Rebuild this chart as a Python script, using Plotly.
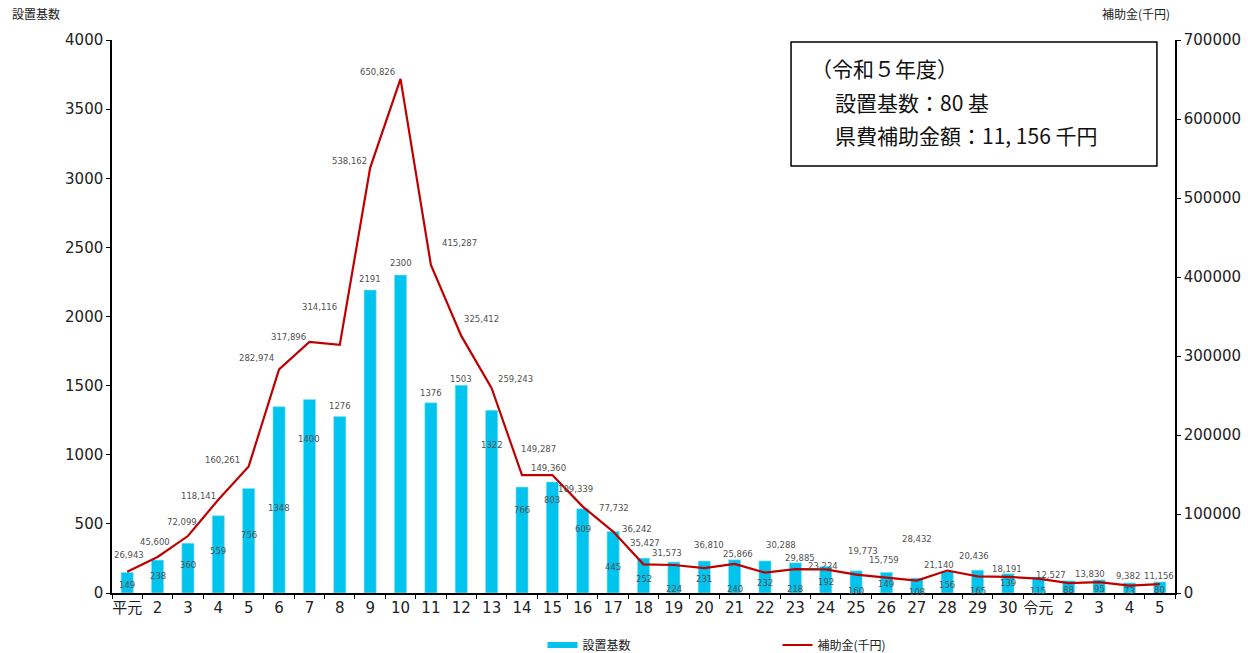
import plotly.graph_objects as go

CATEGORIES = ["平元", "2", "3", "4", "5", "6", "7", "8", "9", "10",
              "11", "12", "13", "14", "15", "16", "17", "18", "19", "20",
              "21", "22", "23", "24", "25", "26", "27", "28", "29", "30",
              "令元", "2 ", "3 ", "4 ", "5 "]
TICK_TEXT = ["平元", "2", "3", "4", "5", "6", "7", "8", "9", "10",
             "11", "12", "13", "14", "15", "16", "17", "18", "19", "20",
             "21", "22", "23", "24", "25", "26", "27", "28", "29", "30",
             "令元", "2", "3", "4", "5"]
UNITS = [149, 238, 360, 559, 756, 1348, 1400, 1276, 2191, 2300,
         1376, 1503, 1322, 766, 803, 609, 445, 252, 224, 231,
         240, 232, 218, 192, 160, 149, 108, 156, 165, 139,
         115, 88, 95, 73, 80]
SUBSIDY = [26943, 45600, 72099, 118141, 160261, 282974, 317896, 314116, 538162, 650826,
           415287, 325412, 259243, 149287, 149360, 109339, 77732, 36242, 35427, 31573,
           36810, 25866, 30288, 29885, 23224, 19773, 15759, 28432, 21140, 20436,
           18191, 12527, 13830, 9382, 11156]

# data-label placement (pixel offsets from each mark, styling only)
BAR_LABEL_DY = [13, 16, 22, 35, 47, 101, 40, -11, -11, -12,
                -10, -6, 35, 23, 18, 20, 36, 21, 27, 18,
                29, 22, 26, 16, 20, 12, 14, 14, 21, 9,
                14, 9, 9, 8, 8]
LINE_LABEL_DX = [2, -3, -6, -20, -26, -23, -21, -20, -21, -23,
                 29, 20, 24, 16, -4, -7, 1, -7, -29, -37,
                 -26, -27, -14, -26, -33, -23, -33, -30, -39, -34,
                 -31, -18, -9, -1, -1]
LINE_LABEL_DY = [-17, -15, -14, -4, -6, -11, -5, -38, -7, -7,
                 -22, -17, -9, -26, -7, -18, -24, -35, -22, -15,
                 -19, -19, -24, -11, -9, -26, -21, -32, -11, -21,
                 -10, -8, -8, -10, -8]

BAR_COLOR = "#00C4EE"
LINE_COLOR = "#C00000"
LABEL_COLOR = "#505050"
FONT = "Noto Sans CJK JP"
NUM_FONT = "DejaVu Sans, Noto Sans CJK JP"

fig = go.Figure()

fig.add_trace(go.Bar(
    x=CATEGORIES, y=UNITS, name="設置基数", showlegend=False,
    marker=dict(color=BAR_COLOR, line=dict(color="#8FE0F5", width=0.6)),
    width=0.4, hoverinfo="skip",
))

fig.add_trace(go.Scatter(
    x=CATEGORIES, y=SUBSIDY, name="補助金(千円)", yaxis="y2",
    mode="lines", line=dict(color=LINE_COLOR, width=2.2),
    showlegend=True, legendrank=2,
))

# legend-only entry for the bars (flat wide swatch like the reference)
fig.add_trace(go.Scatter(
    x=[None], y=[None], name="設置基数", mode="lines",
    line=dict(color=BAR_COLOR, width=6), showlegend=True, legendrank=1,
))

label_font = dict(size=8.5, color=LABEL_COLOR, family=NUM_FONT)
annotations = []
# category axis: annotations are placed by category index
for i, (v, dy) in enumerate(zip(UNITS, BAR_LABEL_DY)):
    annotations.append(dict(x=i, y=v, xref="x", yref="y", text=str(v),
                            showarrow=False, xanchor="center", yanchor="middle",
                            yshift=-dy, font=label_font))
for i, (v, dx, dy) in enumerate(zip(SUBSIDY, LINE_LABEL_DX, LINE_LABEL_DY)):
    annotations.append(dict(x=i, y=v, xref="x", yref="y2", text=f"{v:,}",
                            showarrow=False, xanchor="center", yanchor="middle",
                            xshift=dx, yshift=-dy, font=label_font))

annotations += [
    dict(text="設置基数", xref="paper", yref="paper", x=-0.096, y=1.0488,
         xanchor="left", yanchor="middle", showarrow=False,
         font=dict(size=12, color="#222222", family=FONT)),
    dict(text="補助金(千円)", xref="paper", yref="paper", x=0.997, y=1.0488,
         xanchor="right", yanchor="middle", showarrow=False,
         font=dict(size=12, color="#222222", family=FONT)),
    dict(text="（令和５年度）", xref="paper", yref="paper", x=0.656, y=0.949,
         xanchor="left", yanchor="middle", showarrow=False,
         font=dict(size=21, color="#111111", family=FONT)),
    dict(text="設置基数：80 基", xref="paper", yref="paper", x=0.678, y=0.888,
         xanchor="left", yanchor="middle", showarrow=False,
         font=dict(size=21, color="#111111", family=FONT)),
    dict(text="県費補助金額：11, 156 千円", xref="paper", yref="paper", x=0.678, y=0.828,
         xanchor="left", yanchor="middle", showarrow=False,
         font=dict(size=21, color="#111111", family=FONT)),
]

fig.update_layout(
    width=1248, height=653,
    margin=dict(l=112, r=73, t=40, b=60, autoexpand=False),
    paper_bgcolor="white", plot_bgcolor="white",
    font=dict(family=FONT, color="#222222"),
    bargap=0.6,
    xaxis=dict(
        type="category", tickmode="array", tickvals=CATEGORIES, ticktext=TICK_TEXT,
        tickson="boundaries", ticks="outside", ticklen=4, tickcolor="black",
        showline=True, linecolor="black", linewidth=1.5, tickangle=0,
        tickfont=dict(size=15, color="#222222", family=NUM_FONT),
        showgrid=False, range=[-0.5, len(CATEGORIES) - 0.5], automargin=False,
    ),
    yaxis=dict(
        range=[0, 4000], dtick=500, tickformat="d",
        ticks="outside", ticklen=4, tickcolor="black",
        showline=True, linecolor="black", linewidth=1.5,
        tickfont=dict(size=15, color="#222222", family=NUM_FONT),
        showgrid=False, zeroline=False, automargin=False,
    ),
    yaxis2=dict(
        range=[0, 700000], dtick=100000, tickformat="d", overlaying="y", side="right",
        ticks="outside", ticklen=4, tickcolor="black",
        showline=True, linecolor="black", linewidth=1.5,
        tickfont=dict(size=15, color="#222222", family=NUM_FONT),
        showgrid=False, zeroline=False, automargin=False,
    ),
    legend=dict(
        orientation="h", x=0.405, xanchor="left", y=-0.094, yanchor="middle",
        font=dict(size=12, color="#222222", family=FONT),
        entrywidth=190, bgcolor="rgba(0,0,0,0)",
    ),
    shapes=[dict(type="rect", xref="paper", yref="paper",
                 x0=0.6388, x1=0.983, y0=0.772, y1=0.9964,
                 line=dict(color="black", width=1.5), fillcolor="white", layer="below")],
    annotations=annotations,
)

fig.write_html("out.html", config={"displayModeBar": False},
               post_script="document.body.style.margin='0px';")
